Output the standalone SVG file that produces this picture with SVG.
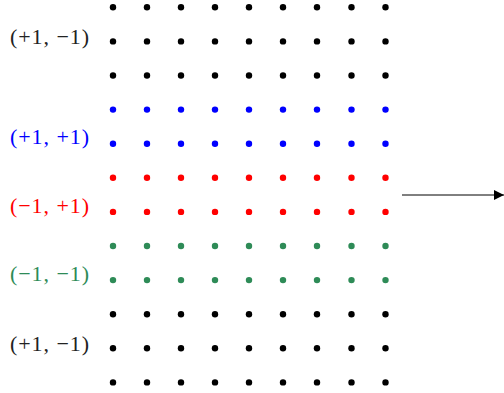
<svg xmlns="http://www.w3.org/2000/svg" width="504" height="393" viewBox="0 0 504 393">
<style>
.lbl{font-family:"Liberation Serif","DejaVu Serif",serif;font-size:22px}
</style>
<defs>
<g id="row">
<circle cx="113" cy="0" r="3.2"/><circle cx="147" cy="0" r="3.2"/><circle cx="181" cy="0" r="3.2"/><circle cx="215" cy="0" r="3.2"/><circle cx="249" cy="0" r="3.2"/><circle cx="283" cy="0" r="3.2"/><circle cx="317" cy="0" r="3.2"/><circle cx="351.5" cy="0" r="3.2"/><circle cx="385.5" cy="0" r="3.2"/>
</g>
<marker id="ah" markerWidth="10" markerHeight="10" refX="10" refY="5" orient="auto" markerUnits="userSpaceOnUse"><path d="M0,0 L10,5 L0,10 Z" fill="#000"/></marker>
</defs>
<g id="dots-top" fill="#000">
<use href="#row" y="7.3"/><use href="#row" y="41.4"/><use href="#row" y="75.5"/>
</g>
<g id="dots-blue" fill="#0000ff">
<use href="#row" y="109.6"/><use href="#row" y="143.7"/>
</g>
<g id="dots-red" fill="#ff0000">
<use href="#row" y="177.8"/><use href="#row" y="211.9"/>
</g>
<g id="dots-green" fill="#2e8b57">
<use href="#row" y="246"/><use href="#row" y="280.1"/>
</g>
<g id="dots-bottom" fill="#000">
<use href="#row" y="314.2"/><use href="#row" y="348.3"/><use href="#row" y="382.4"/>
</g>
<g id="labels">
<text class="lbl" x="10" y="44" textLength="79" lengthAdjust="spacing" fill="#222">(+1, −1)</text>
<text class="lbl" x="10" y="144" textLength="79" lengthAdjust="spacing" fill="#0000ff">(+1, +1)</text>
<text class="lbl" x="10" y="213" textLength="79" lengthAdjust="spacing" fill="#ff0000">(−1, +1)</text>
<text class="lbl" x="10" y="281" textLength="79" lengthAdjust="spacing" fill="#2e8b57">(−1, −1)</text>
<text class="lbl" x="10" y="351" textLength="79" lengthAdjust="spacing" fill="#222">(+1, −1)</text>
</g>
<g id="connectors">
<line x1="402" y1="195" x2="504" y2="195" stroke="#000" stroke-width="1" marker-end="url(#ah)"/>
</g>
</svg>
